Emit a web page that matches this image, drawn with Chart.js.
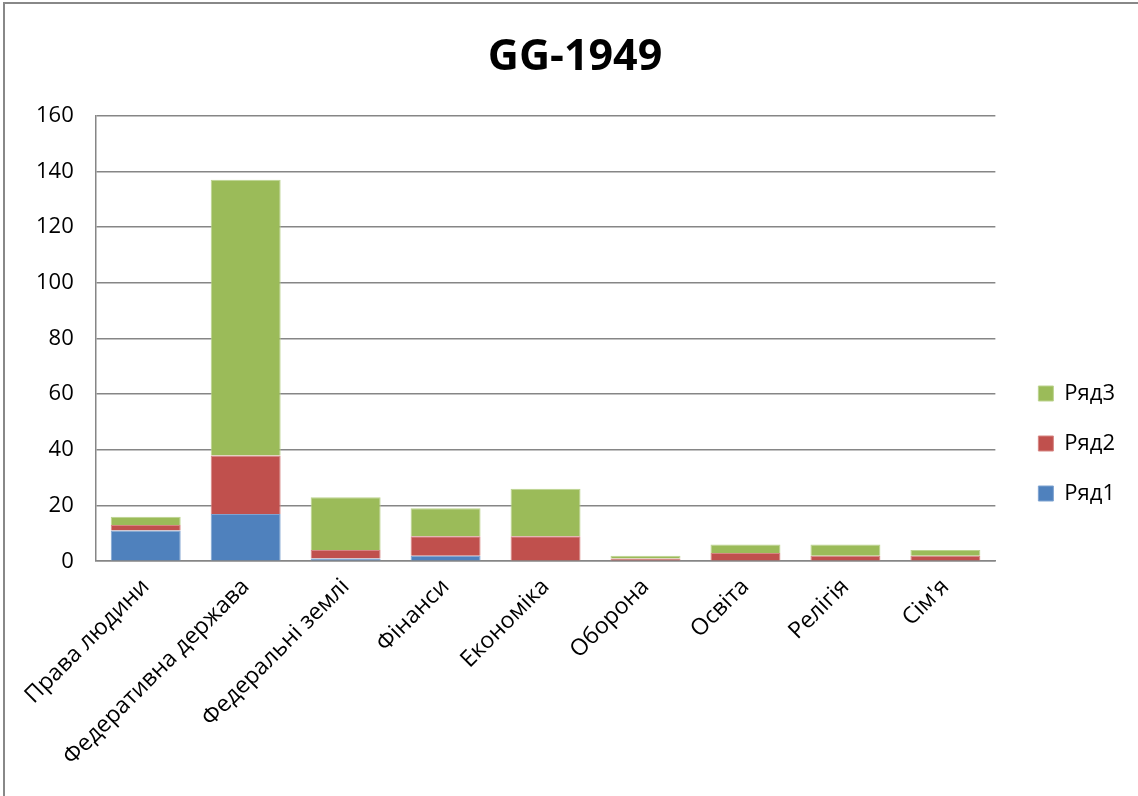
<!DOCTYPE html>
<html>
<head>
<meta charset="utf-8">
<title>GG-1949</title>
<script src="https://cdn.jsdelivr.net/npm/chart.js@4"></script>
<style>
    html, body { margin: 0; padding: 0; background: #fff; overflow: hidden; }
    #frame {
        position: absolute; left: 3px; top: 2px;
        width: 1200px; height: 900px;
        border-left: 2px solid #888; border-top: 2px solid #888;
    }
    #wrap { position: absolute; left: 0; top: 0; width: 1138px; height: 796px; }
</style>
</head>
<body>
<div id="frame"></div>
<div id="wrap"><canvas id="myChart"></canvas></div>
<script>
    // Теми статей
    const categories = ["Права людини", "Федеративна держава", "Федеральні землі", "Фінанси",
        "Економіка", "Оборона", "Освіта", "Релігія", "Сім'я"];

    // Значення рядів
    const row1 = [11, 17, 1, 2, 0, 0, 0, 0, 0];
    const row2 = [2, 21, 3, 7, 9, 1, 3, 2, 2];
    const row3 = [3, 99, 19, 10, 17, 1, 3, 4, 2];

    const seriesNames = ["Ряд1", "Ряд2", "Ряд3"];
    const yTicks = [0, 20, 40, 60, 80, 100, 120, 140, 160];

    const fontFamily = "'Open Sans', 'Liberation Sans', sans-serif";
    Chart.defaults.font.family = fontFamily;
    Chart.defaults.color = '#000';

    // Легенда трохи відсунута від області графіка і опущена нижче,
    // заголовок зміщено вправо
    const boxShift = {
        id: 'boxShift',
        afterLayout(chart) {
            const lg = chart.legend;
            if (lg) {
                lg.left += 15; lg.right += 15;
                lg.top += 56; lg.bottom += 56;
            }
            const tb = chart.titleBlock;
            if (tb) {
                tb.left += 13; tb.right += 13;
            }
        }
    };

    const ctx = document.getElementById('myChart').getContext('2d');
    new Chart(ctx, {
        type: 'bar',
        data: {
            labels: categories,
            datasets: [
                { label: seriesNames[0], data: row1, backgroundColor: '#4F81BD', borderColor: '#7fa3d0' },
                { label: seriesNames[1], data: row2, backgroundColor: '#C0504D', borderColor: '#d68683' },
                { label: seriesNames[2], data: row3, backgroundColor: '#9BBB59', borderColor: '#bcd38f' }
            ].map(ds => Object.assign(ds, {
                borderWidth: 1,
                categoryPercentage: 1,
                barPercentage: 0.7
            }))
        },
        options: {
            responsive: true,
            maintainAspectRatio: false,
            animation: false,
            layout: {
                padding: { left: 14, right: 28, top: 0, bottom: 21 }
            },
            scales: {
                x: {
                    stacked: true,
                    grid: { display: false },
                    border: { color: '#868686', width: 1.5 },
                    ticks: {
                        minRotation: 45,
                        maxRotation: 45,
                        padding: 4,
                        font: { size: 23 }
                    }
                },
                y: {
                    stacked: true,
                    min: 0,
                    max: 160,
                    afterBuildTicks: scale => {
                        scale.ticks = yTicks.map(v => ({ value: v }));
                    },
                    grid: { color: '#868686', lineWidth: 1.5, drawTicks: false },
                    border: { color: '#868686', width: 1.5 },
                    ticks: { padding: 22, font: { size: 22 } }
                }
            },
            plugins: {
                legend: {
                    display: true,
                    position: 'right',
                    reverse: true,
                    labels: {
                        boxWidth: 15,
                        boxHeight: 15,
                        padding: 28,
                        font: { size: 22 }
                    }
                },
                title: {
                    display: true,
                    text: 'GG-1949',
                    padding: { top: 32, bottom: 32 },
                    font: { size: 43, weight: 'bold' }
                },
                tooltip: { enabled: false }
            }
        },
        plugins: [boxShift]
    });
</script>
</body>
</html>
